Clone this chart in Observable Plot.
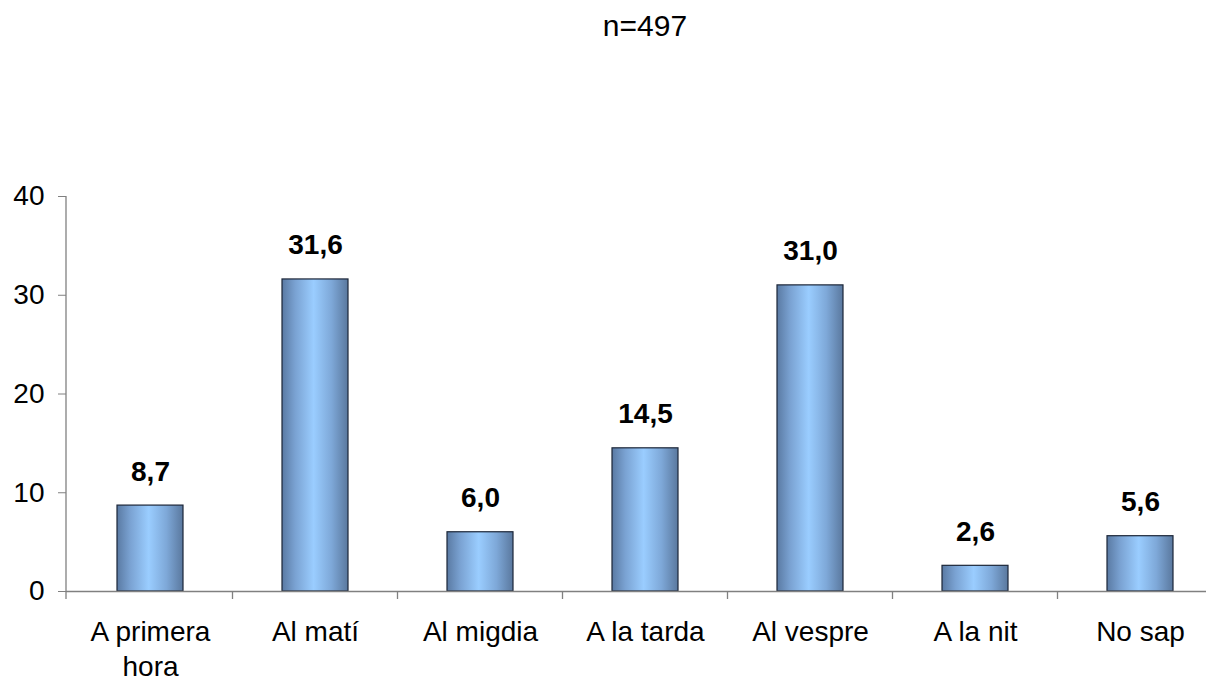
<!DOCTYPE html>
<html>
<head>
<meta charset="utf-8">
<script src="https://cdn.jsdelivr.net/npm/d3@7"></script>
<script src="https://cdn.jsdelivr.net/npm/@observablehq/plot@0.6"></script>
<style>
  html, body { margin: 0; padding: 0; background: #fff; overflow: hidden; }
  #wrap { position: relative; width: 1206px; height: 685px; }
  #title { position: absolute; top: 11px; left: 66px; width: 1158px; text-align: center;
           font-family: "Liberation Sans", Arial, sans-serif; font-size: 30px; line-height: 30px; color: #000; }
</style>
</head>
<body>
<div id="wrap"><div id="title">n=497</div></div>
<script>
const categories = ["A primera hora", "Al matí", "Al migdia", "A la tarda", "Al vespre", "A la nit", "No sap"];
const values = [8.7, 31.6, 6.0, 14.5, 31.0, 2.6, 5.6];
const yTicks = [0, 10, 20, 30, 40];
const titleText = "n=497";

const data = categories.map((c, i) => ({category: c, value: values[i]}));
document.getElementById("title").textContent = titleText;

const gray = "#808080";

function gradientDefs() {
  const defs = d3.create("svg:defs");
  const g = defs.append("linearGradient").attr("id", "barGrad").attr("x1", "0").attr("x2", "1").attr("y1", "0").attr("y2", "0");
  g.append("stop").attr("offset", "0%").attr("stop-color", "#5a7aa3");
  g.append("stop").attr("offset", "20%").attr("stop-color", "#7aa2d2");
  g.append("stop").attr("offset", "48%").attr("stop-color", "#9acdff");
  g.append("stop").attr("offset", "75%").attr("stop-color", "#7ea8d8");
  g.append("stop").attr("offset", "100%").attr("stop-color", "#5a789e");
  return defs.node();
}

const chart = Plot.plot({
  width: 1206,
  height: 685,
  marginTop: 196,
  marginBottom: 94,
  marginLeft: 66,
  marginRight: 0,
  style: {fontFamily: "'Liberation Sans', Arial, sans-serif", fontSize: "28px", background: "transparent", overflow: "hidden"},
  x: {domain: categories, range: [66, 1224], paddingInner: 0.6, paddingOuter: 0.3, label: null},
  y: {domain: [0, 40], label: null},
  marks: [
    gradientDefs,
    Plot.barY(data, {x: "category", y: "value", fill: "url(#barGrad)", stroke: "#1c2638", strokeWidth: 1.2}),
    Plot.ruleY([0], {stroke: gray, strokeWidth: 1.3}),
    Plot.axisY({ticks: yTicks, tickSize: 8, tickPadding: 14, stroke: gray, fill: "#000", fontSize: 28, label: null}),
    Plot.axisX({tickSize: 0, tickPadding: 25, lineWidth: 5, lineHeight: 1.25, fill: "#000", fontSize: 28, label: null}),
    Plot.text(data, {x: "category", y: "value", text: d => d.value.toFixed(1).replace(".", ","), dy: -34,
      fontWeight: "bold", fontSize: 28, fill: "#000"})
  ]
});

// axis line on the left and the tick marks between categories, placed with the chart's own scales
const xs = chart.scale("x"), ys = chart.scale("y");
const bw = xs.bandwidth;
const y0 = ys.apply(0);
const g = d3.select(chart).append("g").attr("stroke", gray).attr("stroke-width", 1.3);
g.append("line").attr("x1", xs.range[0]).attr("x2", xs.range[0])
  .attr("y1", ys.apply(yTicks[yTicks.length - 1])).attr("y2", y0 + 8);
for (let i = 1; i < categories.length; i++) {
  const bx = (xs.apply(categories[i - 1]) + bw + xs.apply(categories[i])) / 2;
  g.append("line").attr("x1", bx).attr("x2", bx).attr("y1", y0).attr("y2", y0 + 8);
}
document.getElementById("wrap").appendChild(chart);
</script>
</body>
</html>
